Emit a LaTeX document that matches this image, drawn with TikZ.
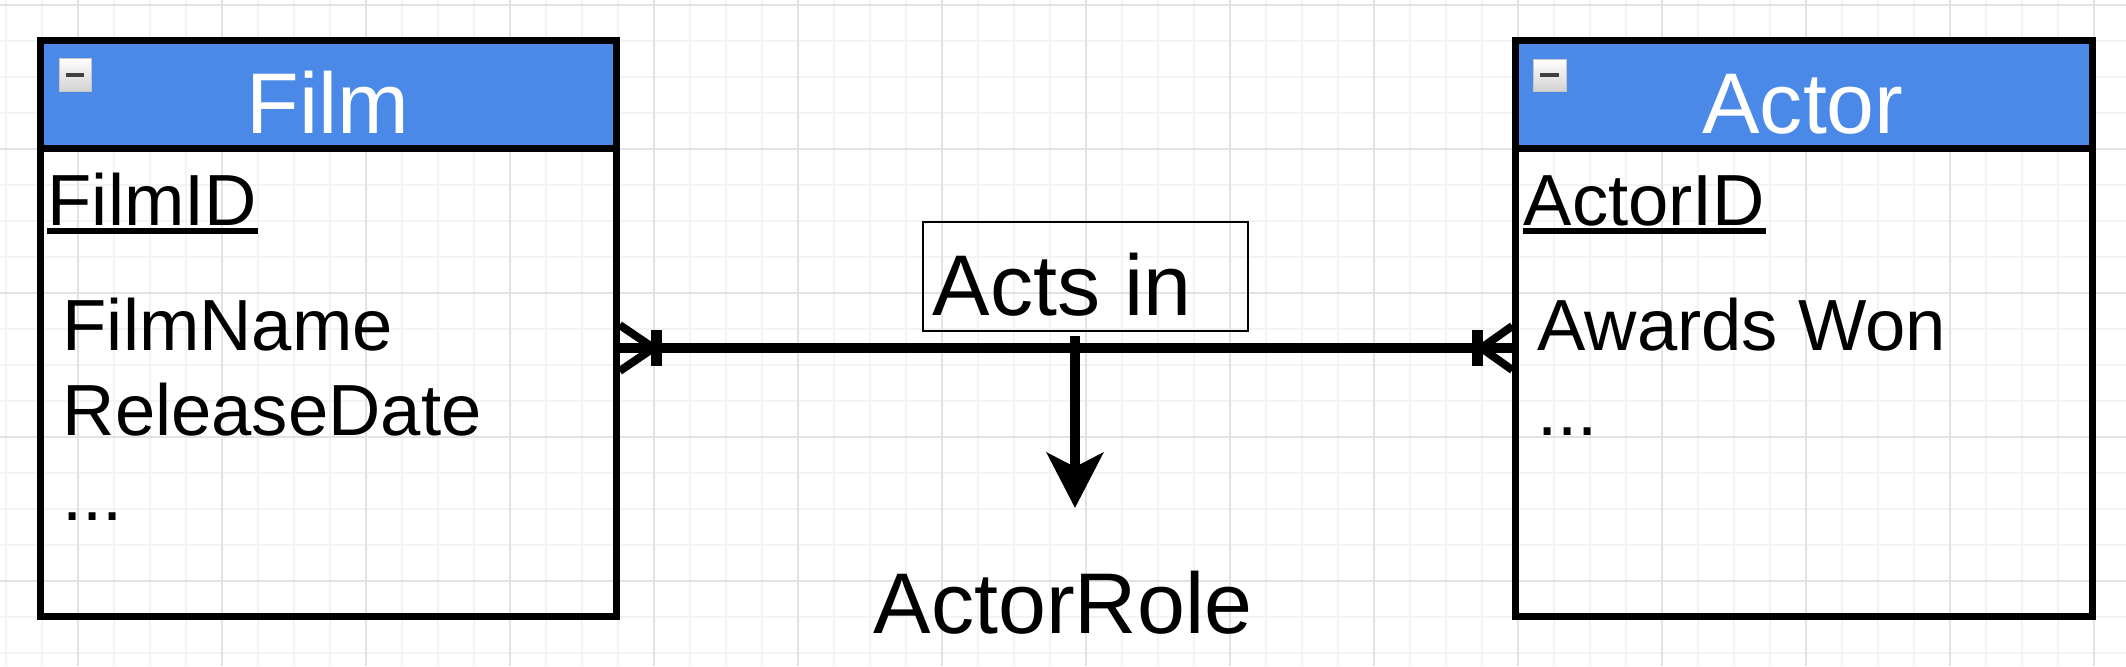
\documentclass[tikz,border=0pt]{standalone}
\usepackage{fontspec}
\setmainfont{Liberation Sans}
\usetikzlibrary{arrows.meta,calc}
\definecolor{hdrblue}{HTML}{4A89E8}
\definecolor{gridmin}{HTML}{F3F3F3}
\definecolor{gridmaj}{HTML}{E2E2E2}
\begin{document}
\begin{tikzpicture}[x=0.01cm,y=-0.01cm,
  tbl/.style={draw=black, line width=0.07cm, minimum width=5.75cm, minimum height=5.75cm, inner sep=0pt},
  hdr/.style={fill=hdrblue, minimum width=5.75cm, minimum height=1.07cm, inner sep=0pt},
  title/.style={inner sep=0pt, font=\fontsize{24.5pt}{29pt}\selectfont},
  attr/.style={inner sep=0pt, anchor=base west, font=\fontsize{20.6pt}{24pt}\selectfont},
  ulinestyle/.style={line width=0.055cm},
  rel/.style={line width=0.1cm},
  foot/.style={line width=0.08cm},
  barstyle/.style={line width=0.11cm},
  arr/.style={line width=0.1cm, -{Stealth[length=0.55cm, width=0.56cm, inset=0.14cm]}},
  relbox/.style={draw=black, line width=0.027cm, minimum width=3.25cm, minimum height=1.09cm, inner sep=0pt},
  gmin/.style={draw=gridmin, line width=0.012cm},
  gmaj/.style={draw=gridmaj, line width=0.02cm},
  iconbox/.style={top color=white, bottom color=gray!35, draw=gray!45, line width=0.01cm},
  icondash/.style={line width=0.04cm, draw=black!75}
]
\useasboundingbox (0,0) rectangle (2126,666);
\fill[white] (0,0) rectangle (2126,666);
% grid
\foreach \i in {0,...,59} { \draw[gmin] ({6+36*\i},0) -- ({6+36*\i},666); }
\foreach \j in {0,...,18} { \draw[gmin] (0,{5+36*\j}) -- (2126,{5+36*\j}); }
\foreach \i in {0,...,14} { \draw[gmaj] ({78+144*\i},0) -- ({78+144*\i},666); }
\foreach \j in {0,...,4} { \draw[gmaj] (0,{5+144*\j}) -- (2126,{5+144*\j}); }

% Film table
\node[hdr] (filmhdr) at (328.5,94.5) {};
\node[tbl] (film) at (328.5,328.5) {};
\draw[line width=0.07cm] (filmhdr.south west) -- (filmhdr.south east);
\shade[iconbox] (59,58) rectangle (91,91);
\draw[icondash] (66,75) -- (84,75);
\node[title, text=white, anchor=base] (filmt) at (328,133) {Film};
\node[attr] (fid) at (47,225) {FilmID};
\draw[ulinestyle] ($(fid.base west)+(0,6)$) -- ($(fid.base east)+(0,6)$);
\node[attr] (fname) at (62,350) {FilmName};
\node[attr] (frel) at (62,435) {ReleaseDate};
\node[attr] (fdots) at (62,520) {...};

% Actor table
\node[hdr, minimum width=5.76cm] (acthdr) at (1804,94.5) {};
\node[tbl, minimum width=5.76cm] (actor) at (1804,328.5) {};
\draw[line width=0.07cm] (acthdr.south west) -- (acthdr.south east);
\shade[iconbox] (1533,59) rectangle (1566,91);
\draw[icondash] (1540,75) -- (1559,75);
\node[title, text=white, anchor=base] (actt) at (1803,133) {Actor};
\node[attr] (aid) at (1523,225) {ActorID};
\draw[ulinestyle] ($(aid.base west)+(0,6)$) -- ($(aid.base east)+(0,6)$);
\node[attr] (aaw) at (1537,350) {Awards Won};
\node[attr] (adots) at (1537,435) {...};

% relationship
\coordinate (ry) at (0,348);
\coordinate (L) at (film.east |- ry);
\coordinate (R) at (actor.west |- ry);
\draw[rel] (L) -- (R);
\draw[foot] ($(L)+(0,-23)$) -- ($(L)+(34,0)$) -- ($(L)+(0,23)$);
\draw[barstyle] ($(L)+(37,-18)$) -- ($(L)+(37,18)$);
\draw[foot] ($(R)+(0,-22)$) -- ($(R)+(-31,0)$) -- ($(R)+(0,22)$);
\draw[barstyle] ($(R)+(-35,-18)$) -- ($(R)+(-35,18)$);

\node[relbox] (acts) at (1085.5,276.5) {};
\node[title, anchor=base west] (actst) at (932,315) {Acts in};

\coordinate (tip) at (1075,508);
\draw[arr] ($(acts.south -| tip)+(0,4)$) -- (tip);
\node[title, anchor=base] (role) at (1063,633) {ActorRole};
\end{tikzpicture}
\end{document}
